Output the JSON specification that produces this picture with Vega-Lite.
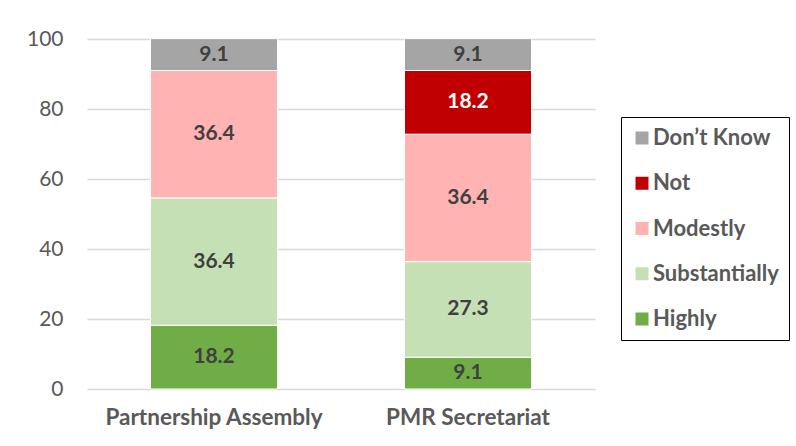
{
  "$schema": "https://vega.github.io/schema/vega-lite/v6.json",
  "width": 508,
  "height": 350,
  "autosize": {"type": "none"},
  "padding": {"left": 87, "top": 39, "right": 201, "bottom": 57},
  "background": "white",
  "config": {"view": {"stroke": null}, "font": "Lato"},
  "data": {
    "values": [
      {"cat": "Partnership Assembly", "level": "Highly", "rank": 1, "value": 18.2},
      {"cat": "Partnership Assembly", "level": "Substantially", "rank": 2, "value": 36.4},
      {"cat": "Partnership Assembly", "level": "Modestly", "rank": 3, "value": 36.4},
      {"cat": "Partnership Assembly", "level": "Not", "rank": 4, "value": 0},
      {"cat": "Partnership Assembly", "level": "Don’t Know", "rank": 5, "value": 9.1},
      {"cat": "PMR Secretariat", "level": "Highly", "rank": 1, "value": 9.1},
      {"cat": "PMR Secretariat", "level": "Substantially", "rank": 2, "value": 27.3},
      {"cat": "PMR Secretariat", "level": "Modestly", "rank": 3, "value": 36.4},
      {"cat": "PMR Secretariat", "level": "Not", "rank": 4, "value": 18.2},
      {"cat": "PMR Secretariat", "level": "Don’t Know", "rank": 5, "value": 9.1}
    ]
  },
  "transform": [
    {"stack": "value", "groupby": ["cat"], "sort": [{"field": "rank", "order": "ascending"}], "as": ["y0", "y1"]}
  ],
  "encoding": {
    "x": {
      "field": "cat",
      "type": "nominal",
      "sort": ["Partnership Assembly", "PMR Secretariat"],
      "scale": {"paddingInner": 0.5, "paddingOuter": 0.25},
      "axis": {
        "title": null,
        "labelAngle": 0,
        "labelFontSize": 22.5,
        "labelFontWeight": "bold",
        "labelColor": "#595959",
        "labelPadding": 17,
        "labelLimit": 400,
        "ticks": false,
        "domain": false
      }
    }
  },
  "layer": [
    {
      "mark": {"type": "bar", "stroke": "white", "strokeWidth": 1},
      "encoding": {
        "y": {
          "field": "y0",
          "type": "quantitative",
          "scale": {"domain": [0, 100], "nice": false},
          "axis": {
            "title": null,
            "values": [0, 20, 40, 60, 80, 100],
            "labelFontSize": 21,
            "labelColor": "#595959",
            "labelPadding": 24,
            "ticks": false,
            "domain": false,
            "gridColor": "#D9D9D9",
            "gridWidth": 1.5
          }
        },
        "y2": {"field": "y1"},
        "color": {
          "field": "level",
          "type": "nominal",
          "scale": {
            "domain": ["Don’t Know", "Not", "Modestly", "Substantially", "Highly"],
            "range": ["#A5A5A5", "#C00000", "#FFB3B3", "#C5E0B4", "#70AD47"]
          },
          "legend": {
            "title": null,
            "orient": "none",
            "legendX": 534,
            "legendY": 78,
            "padding": 10,
            "strokeColor": "#000000",
            "symbolType": "square",
            "symbolSize": 169,
            "symbolStrokeWidth": 0,
            "labelFontSize": 22,
            "labelFontWeight": "bold",
            "labelColor": "#595959",
            "labelOffset": 0,
            "rowPadding": 23.25,
            "labelLimit": 300,
            "encode": {"legend": {"update": {"strokeWidth": {"value": 1.5}}}}
          }
        }
      }
    },
    {
      "transform": [
        {"filter": "datum.value > 0"},
        {"fold": ["y0", "y1"], "as": ["k", "v"]},
        {"aggregate": [{"op": "mean", "field": "v", "as": "mid"}], "groupby": ["cat", "level", "value"]}
      ],
      "mark": {"type": "text", "fontSize": 21, "fontWeight": "bold", "baseline": "middle", "align": "center"},
      "encoding": {
        "y": {"field": "mid", "type": "quantitative"},
        "text": {"field": "value", "type": "quantitative", "format": ".1f"},
        "color": {"condition": {"test": "datum.level === 'Not'", "value": "white"}, "value": "#404040"}
      }
    }
  ]
}
